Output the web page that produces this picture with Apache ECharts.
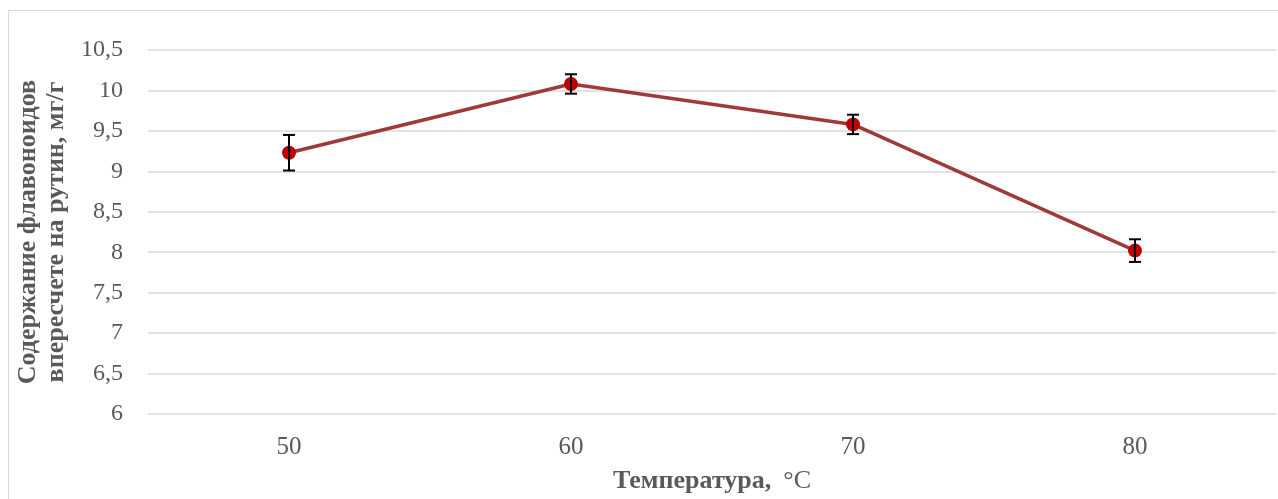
<!DOCTYPE html>
<html><head><meta charset="utf-8">
<script src="https://cdn.jsdelivr.net/npm/echarts@6/dist/echarts.min.js"></script>
<style>html,body{margin:0;padding:0;background:#fff}#c{width:1278px;height:499px}</style>
</head><body><div id="c"></div>
<script>
const categories = ['50', '60', '70', '80'];
const values = [9.23, 10.08, 9.58, 8.02];
const errors = [0.22, 0.12, 0.12, 0.14];
const yTitleLines = ['Содержание флавоноидов', 'впересчете на рутин, мг/г'];
const xTitle = 'Температура,';
const xUnit = '°C';

const chart = echarts.init(document.getElementById('c'));
const font = '"Liberation Serif", "Times New Roman", serif';
const errData = values.map((v, i) => [i, v - errors[i], v + errors[i]]);
chart.setOption({
  animation: false,
  backgroundColor: '#fff',
  graphic: [
    {type: 'rect', shape: {x: 8.5, y: 10.5, width: 1300, height: 600}, style: {fill: 'none', stroke: '#d9d9d9', lineWidth: 1}, z: -1}
  ],
  grid: {left: 148, right: 2, top: 50, bottom: 85, outerBoundsMode: 'none', containLabel: false},
  xAxis: {
    type: 'category', data: categories, boundaryGap: true,
    axisLine: {show: false}, axisTick: {show: false},
    axisLabel: {color: '#595959', fontFamily: font, fontSize: 25, margin: 21},
    name: '{b|' + xTitle + '}{n|' + xUnit + '}',
    nameLocation: 'middle', nameGap: 54,
    nameTextStyle: {rich: {
      b: {color: '#595959', fontFamily: font, fontSize: 26, fontWeight: 'bold'},
      n: {color: '#595959', fontFamily: font, fontSize: 26, padding: [0, 0, 0, 12]}
    }}
  },
  yAxis: {
    type: 'value', min: 6, max: 10.5, interval: 0.5,
    axisLine: {show: false}, axisTick: {show: false},
    splitLine: {lineStyle: {color: '#d9d9d9', width: 1.5}},
    axisLabel: {color: '#595959', fontFamily: font, fontSize: 24, margin: 25,
      formatter: v => String(v).replace('.', ',')},
    name: yTitleLines.join('\n'),
    nameLocation: 'middle', nameGap: 76, nameRotate: 90,
    nameTextStyle: {color: '#595959', fontFamily: font, fontSize: 26, fontWeight: 'bold', lineHeight: 28}
  },
  series: [
    {
      type: 'line', data: values, symbol: 'circle', symbolSize: 14,
      lineStyle: {color: '#9e3a3a', width: 3.5},
      itemStyle: {color: '#c00000'}, z: 3
    },
    {
      type: 'custom', data: errData, z: 4,
      renderItem: function (params, api) {
        const x = api.coord([api.value(0), api.value(1)])[0];
        const lo = api.coord([api.value(0), api.value(1)])[1];
        const hi = api.coord([api.value(0), api.value(2)])[1];
        const w = 6;
        const st = {stroke: '#000', lineWidth: 2};
        return {type: 'group', children: [
          {type: 'line', shape: {x1: x, y1: lo, x2: x, y2: hi}, style: st},
          {type: 'line', shape: {x1: x - w, y1: lo, x2: x + w, y2: lo}, style: st},
          {type: 'line', shape: {x1: x - w, y1: hi, x2: x + w, y2: hi}, style: st}
        ]};
      }
    }
  ]
});
</script></body></html>
